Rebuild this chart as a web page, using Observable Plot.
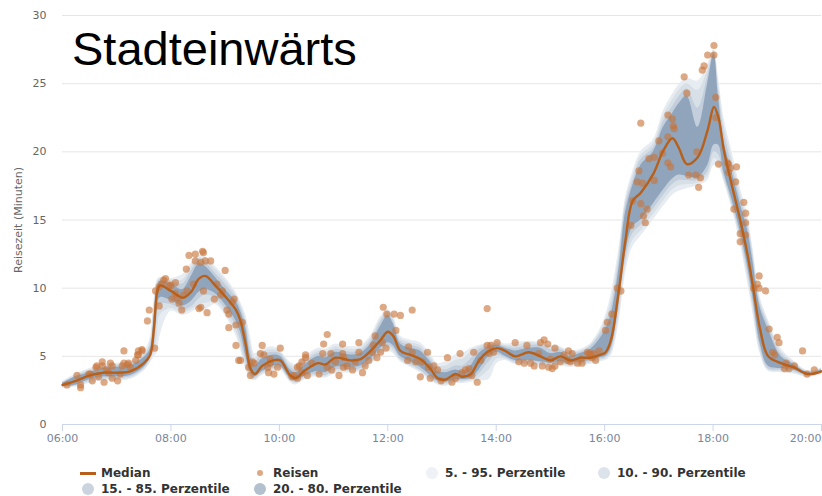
<!DOCTYPE html>
<html><head><meta charset="utf-8">
<script src="https://cdn.jsdelivr.net/npm/d3@7"></script>
<script src="https://cdn.jsdelivr.net/npm/@observablehq/plot@0.6"></script>
<style>
body{margin:0;background:#fff;}
#wrap{position:relative;width:822px;height:496px;overflow:hidden;font-family:"DejaVu Sans",sans-serif;}
#title{position:absolute;left:72px;top:25px;font:47px/1 "Liberation Sans",Arial,sans-serif;color:#000;}
.lg{position:absolute;font:bold 12px/14px "DejaVu Sans",sans-serif;color:#333;white-space:nowrap;}
.sym{position:absolute;}
</style></head><body>
<div id="wrap"><div id="chart"></div><div id="title"></div><div id="legend"></div></div>
<script>
const titleText = "Stadteinwärts";
const yLabel = "Reisezeit (Minuten)";
const xTicks = [6, 8, 10, 12, 14, 16, 18, 20];
const yTicks = [0, 5, 10, 15, 20, 25, 30];

const bandTimes = ["06:00","06:15","06:30","06:45","07:00","07:15","07:30","07:37","07:41","07:45","07:48","08:00","08:13","08:22","08:31","08:38","08:49","09:00","09:12","09:17","09:23","09:28","09:33","09:41","09:53","10:01","10:12","10:18","10:29","10:43","10:51","11:02","11:19","11:30","11:41","11:52","12:00","12:06","12:14","12:25","12:36","12:47","12:55","13:04","13:15","13:23","13:32","13:41","13:52","14:01","14:10","14:21","14:36","14:49","15:00","15:11","15:22","15:33","15:44","15:55","16:01","16:07","16:16","16:23","16:31","16:40","16:54","17:05","17:15","17:22","17:31","17:43","17:54","18:01","18:06","18:12","18:21","18:30","18:38","18:44","18:52","19:01","19:15","19:29","19:45","20:00"];
const median = [2.9,3.2,3.6,3.8,3.8,3.9,4.5,5.1,6.9,9.8,10.2,9.8,9.3,9.7,10.7,10.9,10.2,9.4,8.4,7.6,5.8,4.1,3.7,4.3,4.7,4.7,3.6,3.4,4.0,4.5,4.4,4.9,4.7,4.8,5.4,6.2,6.8,6.5,5.4,5.1,4.8,4.1,3.4,3.3,3.7,3.5,3.7,4.7,5.4,5.6,5.4,5.0,5.3,5.0,4.7,5.0,4.7,4.9,4.9,5.1,5.3,6.2,10.0,13.5,16.4,17.0,18.4,20.1,21.0,20.3,19.1,19.6,21.6,23.3,22.5,20.1,17.5,15.0,12.5,10.2,7.0,5.0,4.5,4.2,3.7,3.9];
const p20 = [2.8,2.9,3.3,3.5,3.5,3.6,4.2,4.9,6.0,8.5,9.3,9.1,8.7,9.0,9.7,9.9,9.6,8.8,7.6,6.8,5.0,3.8,3.5,3.9,4.3,4.3,3.4,3.2,3.6,3.9,3.8,4.2,4.2,4.3,4.8,5.6,6.0,5.8,5.0,4.6,4.2,3.6,3.2,3.1,3.3,3.3,3.4,4.0,5.0,5.3,5.0,4.7,4.7,4.6,4.5,4.6,4.5,4.6,4.7,4.9,5.0,5.6,9.0,12.5,14.5,15.0,16.2,17.2,18.0,18.3,18.2,18.1,19.0,20.5,20.5,18.5,16.5,14.2,11.7,9.4,6.0,4.3,4.1,4.0,3.6,3.8];
const p80 = [3.0,3.5,3.8,4.1,4.2,4.3,4.9,5.5,7.5,10.1,10.5,10.3,9.9,10.8,11.8,11.6,10.8,9.9,9.0,8.3,7.0,5.0,4.3,4.8,5.1,5.0,4.0,3.8,4.4,5.0,4.9,5.3,5.1,5.2,5.9,7.2,8.0,7.4,5.9,5.6,5.4,4.6,3.9,3.8,4.0,3.9,4.3,5.2,5.7,5.8,5.6,5.4,5.6,5.6,5.2,5.3,5.0,5.2,5.5,6.3,7.0,8.0,11.5,15.5,17.5,19.0,20.0,21.8,22.8,23.5,24.1,21.8,25.0,27.2,24.0,20.8,18.5,16.2,14.3,12.0,8.6,7.0,5.0,4.4,3.8,4.0];
const p15 = [2.75,2.85,3.2,3.4,3.4,3.5,4.1,4.8,5.5,7.8,8.8,8.8,8.4,8.6,9.2,9.5,9.3,8.5,7.2,6.2,4.6,3.6,3.4,3.8,4.1,4.2,3.3,3.1,3.5,3.7,3.6,4.0,4.0,4.1,4.6,5.4,5.8,5.6,4.8,4.4,4.0,3.4,3.1,3.0,3.2,3.2,3.3,3.7,4.6,5.1,4.9,4.6,4.6,4.5,4.4,4.5,4.4,4.5,4.6,4.8,4.9,5.4,8.5,12.0,14.0,14.6,15.8,16.8,17.6,17.9,17.9,17.9,18.5,20.0,19.8,18.2,16.2,13.9,11.3,9.0,5.7,4.1,4.0,3.9,3.55,3.75];
const p85 = [3.05,3.55,3.9,4.2,4.3,4.4,5.0,5.7,8.0,10.3,10.6,10.5,10.3,11.2,12.0,11.9,11.1,10.3,9.3,8.6,7.4,5.5,4.6,5.1,5.3,5.2,4.2,4.0,4.6,5.2,5.1,5.5,5.3,5.4,6.1,7.5,8.2,7.6,6.1,5.8,5.6,4.8,4.1,4.0,4.3,4.3,4.8,5.5,5.8,5.9,5.7,5.6,5.8,5.8,5.5,5.5,5.2,5.3,5.7,6.6,7.4,8.5,12.0,16.0,17.8,19.4,20.3,22.2,23.3,24.0,24.6,23.2,25.5,27.3,24.5,21.5,19.0,16.6,14.7,12.4,8.9,7.3,5.2,4.5,3.85,4.05];
const p10 = [2.7,2.8,3.1,3.3,3.3,3.4,4.0,4.6,5.2,6.5,8.0,8.5,8.2,8.4,8.8,8.9,9.0,8.2,6.8,5.8,4.3,3.5,3.3,3.7,4.0,4.1,3.2,3.0,3.4,3.6,3.5,3.9,3.9,4.0,4.5,5.2,5.6,5.4,4.7,4.3,3.9,3.3,3.0,2.9,3.1,3.1,3.2,3.4,4.0,4.8,4.8,4.5,4.5,4.4,4.3,4.4,4.3,4.4,4.5,4.7,4.8,5.2,8.0,11.5,13.5,14.2,15.4,16.4,17.2,17.5,17.6,17.7,18.2,19.5,19.3,18.0,16.0,13.6,10.9,8.6,5.4,4.0,3.9,3.8,3.5,3.7];
const p90 = [3.1,3.6,4.0,4.3,4.4,4.5,5.1,6.0,8.5,10.5,10.7,10.6,10.6,11.5,12.2,12.1,11.4,10.6,9.5,8.8,7.7,6.0,4.9,5.3,5.5,5.3,4.4,4.2,4.8,5.4,5.3,5.7,5.5,5.6,6.3,7.7,8.3,7.8,6.3,6.0,5.8,5.0,4.3,4.3,4.7,4.8,5.3,5.7,5.9,6.0,5.8,5.8,6.0,5.9,5.7,5.6,5.3,5.4,5.8,6.8,7.7,9.0,12.5,16.3,18.2,19.7,20.6,22.6,23.8,24.5,25.0,24.5,26.0,27.4,25.0,22.0,19.5,17.0,15.0,12.7,9.1,7.5,5.4,4.6,3.9,4.1];
const p5 = [2.65,2.75,3.0,3.2,3.2,3.3,3.9,4.5,4.9,5.3,6.5,8.3,8.0,8.2,8.5,8.4,8.8,8.0,6.5,5.5,4.0,3.4,3.2,3.6,3.9,4.0,3.1,2.9,3.3,3.5,3.4,3.7,3.8,3.9,4.4,5.0,5.4,5.2,4.6,4.2,3.8,3.2,2.9,2.8,3.0,3.0,3.1,3.2,3.3,4.5,4.7,4.4,4.4,4.3,4.2,4.3,4.2,4.3,4.4,4.6,4.7,5.0,7.5,11.0,13.0,13.8,15.0,16.0,16.8,17.1,17.3,17.5,17.9,19.0,18.9,17.8,15.8,13.3,10.5,8.2,5.2,3.9,3.8,3.7,3.45,3.65];
const p95 = [3.15,3.7,4.1,4.4,4.5,4.6,5.3,6.3,9.0,10.6,10.8,10.7,11.0,11.8,12.4,12.3,11.6,10.8,9.7,9.0,8.0,6.5,5.2,5.5,5.7,5.4,4.6,4.4,5.0,5.6,5.5,5.9,5.7,5.8,6.5,7.9,8.4,8.0,6.5,6.2,6.0,5.2,4.5,4.6,5.1,5.2,5.6,5.8,6.0,6.1,5.9,6.0,6.1,6.0,5.8,5.7,5.4,5.5,5.9,7.0,8.0,9.5,13.0,16.6,18.5,20.0,20.9,23.0,24.2,24.9,25.4,25.2,26.4,27.5,25.5,22.5,20.0,17.4,15.4,13.0,9.4,7.7,5.6,4.7,3.95,4.15];

const pointTimes = ["06:05","06:16","06:20","06:20","06:29","06:31","06:33","06:37","06:38","06:40","06:44","06:44","06:46","06:49","06:51","06:53","06:55","06:55","07:01","07:04","07:06","07:08","07:08","07:12","07:13","07:15","07:21","07:23","07:24","07:24","07:28","07:28","07:34","07:36","07:42","07:43","07:47","07:47","07:50","07:52","07:54","07:58","08:00","08:01","08:05","08:05","08:07","08:09","08:12","08:14","08:17","08:18","08:20","08:25","08:27","08:27","08:31","08:33","08:33","08:35","08:36","08:36","08:38","08:40","08:44","08:48","08:51","08:55","08:57","09:00","09:02","09:04","09:04","09:08","09:10","09:12","09:12","09:15","09:17","09:19","09:26","09:28","09:30","09:32","09:39","09:41","09:43","09:47","09:48","09:50","09:50","09:54","09:58","10:01","10:14","10:16","10:20","10:20","10:22","10:25","10:25","10:29","10:29","10:31","10:36","10:44","10:48","10:49","10:53","10:53","10:57","10:58","11:02","11:06","11:10","11:10","11:11","11:11","11:15","11:21","11:24","11:28","11:28","11:32","11:35","11:39","11:43","11:44","11:46","11:48","11:52","11:54","11:55","11:58","11:59","12:07","12:09","12:14","12:22","12:23","12:27","12:27","12:31","12:36","12:38","12:44","12:45","12:47","12:51","12:55","12:59","13:06","13:11","13:15","13:20","13:22","13:26","13:30","13:33","13:35","13:39","13:43","13:50","13:50","13:52","13:54","13:57","14:01","14:21","14:25","14:31","14:34","14:38","14:42","14:47","14:49","14:51","14:53","14:57","14:58","15:00","15:02","15:05","15:05","15:11","15:15","15:19","15:20","15:22","15:24","15:30","15:34","15:35","15:41","15:43","15:45","15:46","15:48","15:50","15:54","16:01","16:03","16:08","16:14","16:18","16:29","16:31","16:36","16:38","16:40","16:40","16:42","16:43","16:45","16:47","16:49","16:55","16:55","17:00","17:04","17:10","17:10","17:10","17:13","17:15","17:16","17:17","17:28","17:31","17:33","17:41","17:42","17:44","17:46","17:48","17:50","17:54","18:01","18:01","18:03","18:03","18:06","18:16","18:17","18:17","18:19","18:23","18:25","18:26","18:30","18:30","18:34","18:36","18:36","18:36","18:45","18:49","18:51","18:51","18:58","19:02","19:06","19:08","19:11","19:13","19:19","19:21","19:24","19:30","19:39","19:44","19:52"];
const pointValues = [2.9,3.6,2.7,2.9,3.7,3.7,3.2,4.2,4.3,3.5,4.6,4.3,3.1,4.0,3.8,4.5,4.3,3.4,3.2,3.7,4.3,4.5,5.4,4.4,4.5,4.2,4.7,5.1,5.1,5.4,5.4,5.5,7.6,8.4,5.6,9.8,10.1,8.7,10.3,10.6,10.7,10.2,10.2,9.2,9.6,10.4,9.3,8.9,8.4,9.5,11.4,9.8,12.4,10.3,12.5,12.0,8.5,8.6,11.9,12.7,9.8,12.6,12.0,8.2,12.0,9.2,10.3,9.5,9.8,11.3,8.4,7.1,8.1,9.0,9.2,7.3,5.8,4.7,4.7,7.5,4.2,3.6,4.6,4.5,5.2,5.8,5.1,4.2,3.8,4.5,4.8,3.7,4.2,5.6,3.5,3.6,4.2,3.4,4.3,3.8,4.6,4.9,5.1,3.6,4.5,3.7,5.2,5.9,6.6,4.2,5.2,4.0,4.6,3.6,5.9,5.2,4.2,4.9,4.3,4.0,4.6,6.0,5.3,3.8,4.3,4.7,5.3,5.8,6.5,4.9,5.3,6.0,8.6,5.6,8.1,8.1,6.9,8.0,4.7,5.7,8.4,5.3,4.6,3.5,4.6,5.3,4.2,3.4,4.3,4.0,3.2,4.9,3.1,3.4,5.2,3.8,4.0,4.1,3.6,5.3,3.1,4.7,8.5,5.8,5.2,5.8,5.3,6.0,6.0,4.6,4.5,5.8,4.5,4.3,5.2,6.0,4.3,6.2,5.9,4.2,4.8,4.1,5.6,4.3,4.6,5.1,4.7,5.4,4.6,5.2,4.5,4.8,4.5,5.3,5.2,5.1,4.9,5.2,4.7,5.4,6.9,7.5,8.1,10.0,9.8,14.6,16.4,17.8,18.6,16.2,22.1,17.7,15.3,14.8,15.8,19.5,19.6,17.9,20.8,19.9,21.1,22.7,19.2,18.9,22.4,21.9,21.7,25.5,24.3,18.3,18.3,20.0,17.4,18.1,26.0,26.3,27.1,27.8,27.1,24.0,22.5,19.1,19.2,19.1,18.5,18.8,15.8,17.8,18.9,14.0,13.4,16.3,15.5,14.8,13.9,10.0,10.3,10.9,10.0,9.8,7.0,5.3,5.1,6.4,6.0,4.1,4.5,4.1,4.3,5.4,3.7,4.0];

const legendLabels = ["Median", "Reisen", "5. - 95. Perzentile", "10. - 90. Perzentile", "15. - 85. Perzentile", "20. - 80. Perzentile"];

const colors = {
  median: "#b85f1a",
  point: "#c8753a",
  b5: "#e6ecf1",
  b10: "#d7dfe7",
  b15: "#c2cedb",
  b20: "#90a5bb",
  leg5: "#eef1f5",
  leg10: "#dde3ea",
  leg15: "#cbd4de",
  leg20: "#b3c1cf"
};

const toH = s => { const [h, m] = s.split(":").map(Number); return h + m / 60; };
const bands = bandTimes.map((t, i) => ({
  t: toH(t), med: median[i], p5: p5[i], p10: p10[i], p15: p15[i], p20: p20[i],
  p80: p80[i], p85: p85[i], p90: p90[i], p95: p95[i]
}));
const points = pointTimes.map((t, i) => ({t: toH(t), v: pointValues[i]}));
const fmt = h => String(h).padStart(2, "0") + ":00";
const curve = "catmull-rom";

const chart = Plot.plot({
  width: 822, height: 450,
  marginLeft: 62, marginRight: 1, marginTop: 15, marginBottom: 26,
  x: {domain: [6, 20]},
  y: {domain: [0, 30]},
  style: {fontFamily: "DejaVu Sans, sans-serif", fontSize: "11px", background: "white", overflow: "visible"},
  marks: [
    Plot.gridY(yTicks.filter(v => v > 0), {stroke: "#e6e6e6", strokeOpacity: 1}),
    Plot.areaY(bands, {x: "t", y1: "p5", y2: "p95", fill: colors.b5, curve}),
    Plot.areaY(bands, {x: "t", y1: "p10", y2: "p90", fill: colors.b10, curve}),
    Plot.areaY(bands, {x: "t", y1: "p15", y2: "p85", fill: colors.b15, curve}),
    Plot.areaY(bands, {x: "t", y1: "p20", y2: "p80", fill: colors.b20, curve}),
    Plot.ruleY([0], {stroke: "#ccd6eb"}),
    Plot.dot(points, {x: "t", y: "v", r: 3.6, fill: colors.point, fillOpacity: 0.62, stroke: null}),
    Plot.line(bands, {x: "t", y: "med", stroke: colors.median, strokeWidth: 2.4, curve}),
    Plot.axisY(yTicks, {tickSize: 0, tickPadding: 16, fill: "#666", label: null}),
    Plot.axisX(xTicks.filter(h => h < 20), {tickSize: 7, tickPadding: 3, stroke: "#ccd6eb", fill: "#7a8699", tickFormat: fmt, label: null}),
    Plot.axisX(xTicks.filter(h => h >= 20), {tickSize: 7, tickPadding: 3, stroke: "#ccd6eb", fill: "#7a8699", tickFormat: fmt, textAnchor: "end", label: null}),
    Plot.text([yLabel], {frameAnchor: "left", rotate: -90, dx: -44, fill: "#666", fontSize: 11, textAnchor: "middle", lineAnchor: "middle"})
  ]
});
document.getElementById("chart").appendChild(chart);
document.getElementById("title").textContent = titleText;

// legend
const legend = document.getElementById("legend");
const colX = [88, 260, 432, 604];
const rowY = [473, 489];
const symKinds = ["line", "dot", colors.leg5, colors.leg10, colors.leg15, colors.leg20];
legendLabels.forEach((lab, i) => {
  const cx = colX[i % 4], cy = rowY[Math.floor(i / 4)];
  const sym = document.createElement("div");
  sym.className = "sym";
  const k = symKinds[i];
  if (k === "line") {
    Object.assign(sym.style, {left: (cx - 8) + "px", top: (cy - 1) + "px", width: "16px", height: "2.5px", background: colors.median});
  } else if (k === "dot") {
    Object.assign(sym.style, {left: (cx - 3) + "px", top: (cy - 3) + "px", width: "6px", height: "6px", borderRadius: "50%", background: colors.point, opacity: 0.62});
  } else {
    Object.assign(sym.style, {left: (cx - 6) + "px", top: (cy - 6) + "px", width: "12px", height: "12px", borderRadius: "50%", background: k});
  }
  legend.appendChild(sym);
  const t = document.createElement("div");
  t.className = "lg";
  t.textContent = lab;
  t.style.left = (cx + 13) + "px";
  t.style.top = (cy - 7) + "px";
  legend.appendChild(t);
});
</script>
</body></html>
